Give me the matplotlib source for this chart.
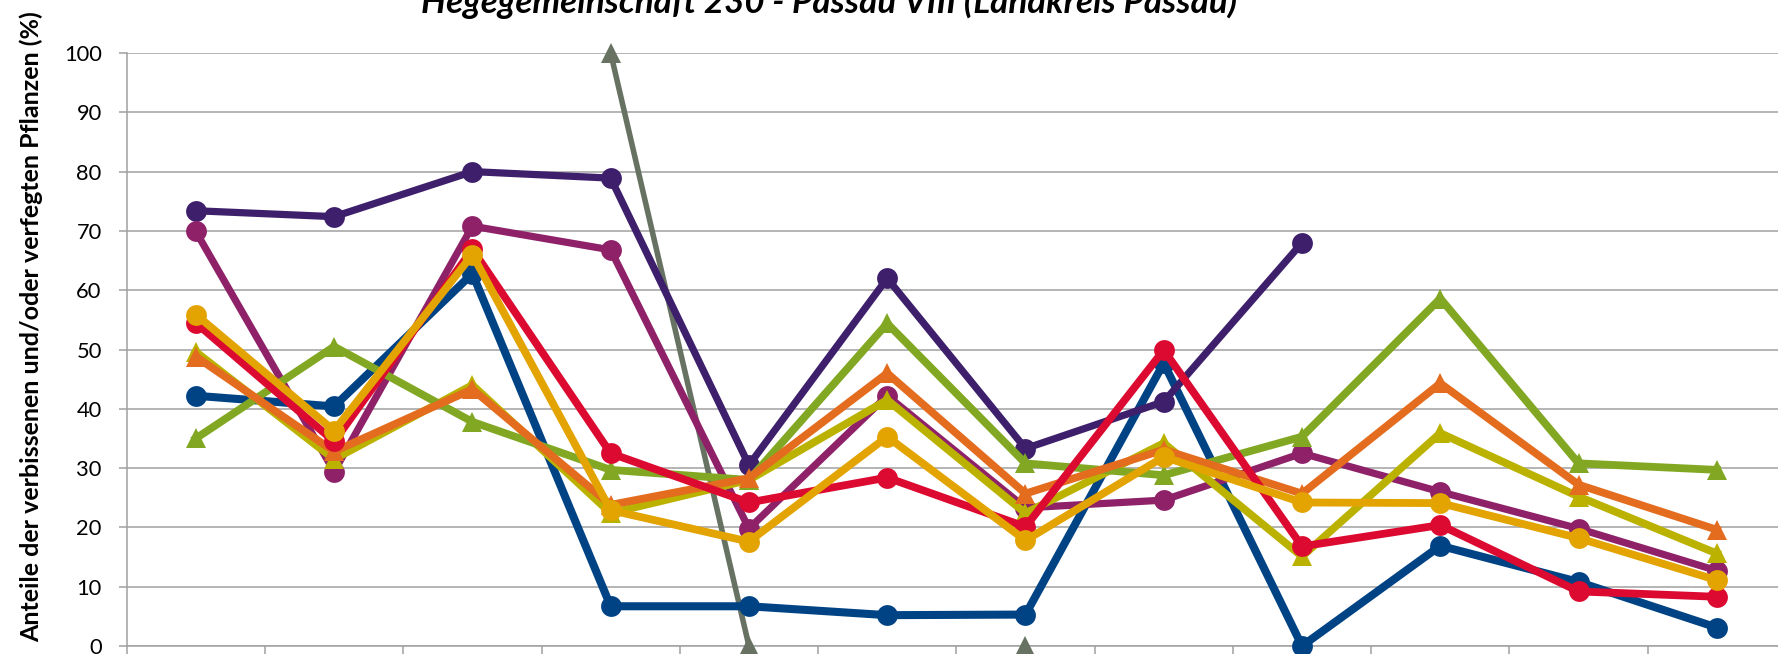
import numpy as np
import matplotlib
matplotlib.use("Agg")
import matplotlib.pyplot as plt

nan = np.nan

# ---------------- data ----------------
categories = list(range(1, 13))
yticks = [0, 10, 20, 30, 40, 50, 60, 70, 80, 90, 100]
title = "Hegegemeinschaft 230 - Passau VIII (Landkreis Passau)"
ylabel = "Anteile der verbissenen und/oder verfegten Pflanzen (%)"

s_gray    = [nan, nan, nan, 100.0, 0.0, nan, 0.0, nan, nan, nan, nan, nan]
s_blue    = [42.2, 40.4, 62.8, 6.7, 6.7, 5.2, 5.3, 47.7, 0.0, 16.9, 10.8, 3.1]
s_dpurple = [73.4, 72.4, 80.0, 78.9, 30.5, 62.0, 33.3, 41.2, 68.0, nan, nan, nan]
s_magenta = [69.9, 29.4, 70.8, 66.8, 19.8, 42.2, 23.3, 24.6, 32.5, 26.0, 19.8, 12.7]
s_olive   = [49.6, 31.5, 44.0, 22.4, 28.0, 41.5, 22.4, 34.2, 15.1, 35.9, 25.2, 15.6]
s_green   = [35.0, 50.5, 37.8, 29.7, 28.0, 54.4, 30.8, 28.8, 35.3, 58.6, 30.8, 29.7]
s_orange  = [48.8, 32.8, 43.3, 23.8, 28.3, 46.0, 25.7, 33.1, 25.7, 44.3, 27.2, 19.6]
s_red     = [54.5, 34.5, 66.9, 32.5, 24.2, 28.4, 20.1, 49.9, 16.8, 20.4, 9.2, 8.3]
s_yellow  = [55.9, 36.3, 66.0, 22.9, 17.6, 35.3, 17.8, 31.9, 24.2, 24.1, 18.2, 11.1]

series = [
    (s_gray,    "#687262", "^", 4.0),
    (s_blue,    "#004385", "o", 5.8),
    (s_dpurple, "#3E1F6B", "o", 5.2),
    (s_magenta, "#8E2168", "o", 5.2),
    (s_olive,   "#BBB200", "^", 5.6),
    (s_green,   "#82A823", "^", 5.6),
    (s_orange,  "#E46C1F", "^", 5.6),
    (s_red,     "#DC0A30", "o", 5.6),
    (s_yellow,  "#E3A300", "o", 5.6),
]

# ---------------- figure ----------------
W, H = 1778, 654
DPI = 100
FONT = ["Lato", "DejaVu Sans"]
plt.rcParams["font.family"] = FONT

fig = plt.figure(figsize=(W / DPI, H / DPI), dpi=DPI)
fig.patch.set_facecolor("white")

ax_left, ax_right, ax_top, ax_bot = 126.7, 1786.0, 53.0, 646.0
ax = fig.add_axes([ax_left / W, (H - ax_bot) / H,
                   (ax_right - ax_left) / W, (ax_bot - ax_top) / H])

x = np.arange(len(categories))
for z, (vals, col, mk, lw) in enumerate(series):
    ax.plot(x, vals, color=col, lw=lw, marker=mk, markersize=15,
            markeredgewidth=0, solid_joinstyle="round",
            clip_on=False, zorder=3 + z)

ax.set_xlim(-0.5, len(categories) - 0.5)
ax.set_ylim(0, 100)
ax.set_yticks(yticks)
ax.set_xticks(np.arange(len(categories) + 1) - 0.5)
ax.set_xticklabels([])
gridc = "#A0A0A0"
ax.yaxis.grid(True, color=gridc, lw=1.1, zorder=0)
ax.xaxis.grid(False)
for sp in ["top", "right"]:
    ax.spines[sp].set_visible(False)
for sp in ["left", "bottom"]:
    ax.spines[sp].set_color(gridc)
    ax.spines[sp].set_linewidth(1.1)
ax.tick_params(axis="y", direction="out", length=6, width=1.1, color=gridc,
               pad=12, labelsize=16)
ax.tick_params(axis="x", direction="out", length=10, width=1.1, color=gridc)

r = fig.canvas.get_renderer()

# fit tick label size (width of "100" ~38px)
lab100 = [t for t in ax.get_yticklabels() if t.get_text() == "100"]
fig.canvas.draw()
if lab100:
    bb = lab100[0].get_window_extent(r)
    fs = 16 * 38.0 / max(bb.width, 1)
    ax.tick_params(axis="y", labelsize=fs)

# title (partially cut off at the top, as in the reference)
t = fig.text(829 / W, (H - 12.7) / H, title, ha="center", va="baseline",
             fontweight="bold", fontstyle="italic", fontsize=22, color="black")
bb = t.get_window_extent(r)
t.set_fontsize(22 * 816.0 / bb.width)

# y label
yl = fig.text(31 / W, (H - 327) / H, ylabel, rotation=90, ha="center", va="center",
              fontweight="bold", fontsize=16, color="black")
bb = yl.get_window_extent(r)
yl.set_fontsize(16 * 634.0 / bb.height)

fig.savefig("out.png", dpi=DPI, facecolor="white")
